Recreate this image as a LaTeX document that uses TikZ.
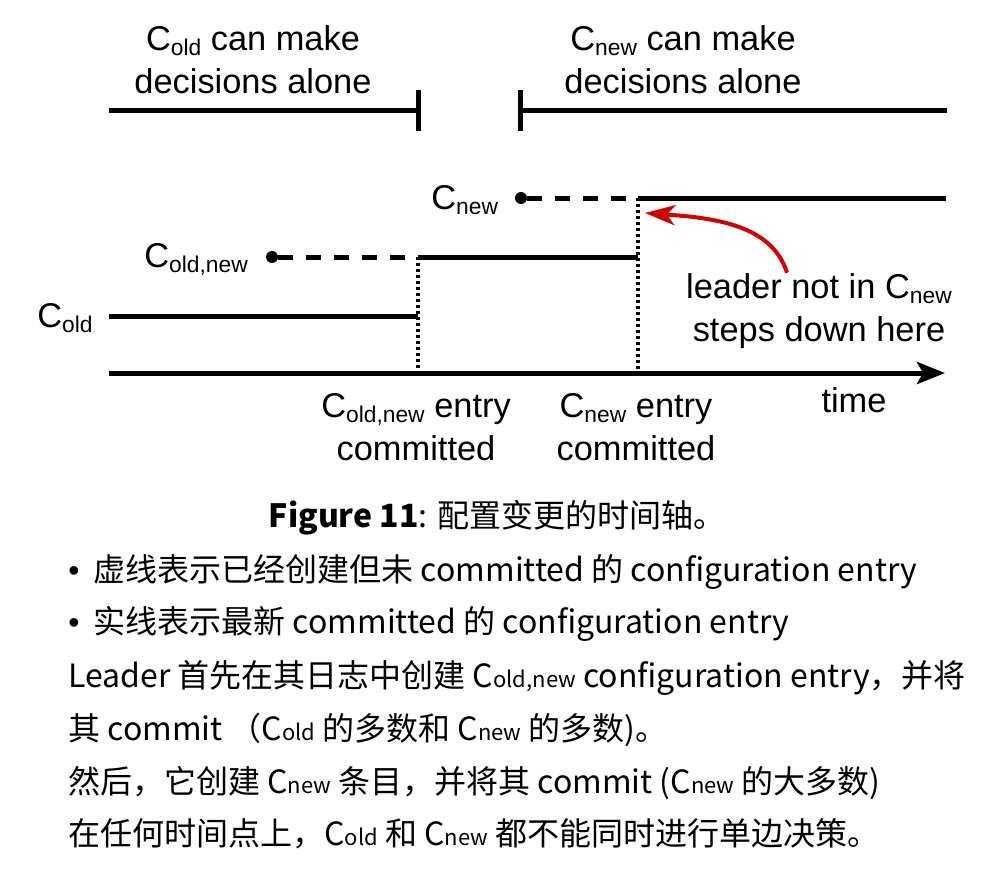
\documentclass[tikz,border=0pt]{standalone}
\usepackage{fontspec}
\setmainfont{Liberation Sans}
\newfontfamily\cjk{Noto Sans CJK SC}
\usepackage{graphicx}
\usetikzlibrary{positioning}
\usetikzlibrary{arrows.meta}
\definecolor{leaderred}{RGB}{204,0,0}
\newcommand{\Csub}[1]{C\raisebox{-2.5pt}{\fontsize{11.4}{12}\selectfont #1}}
\newcommand{\Ccap}[1]{C{\fontsize{11}{12}\selectfont #1}}
\newcommand{\capbullet}{{\normalfont •}\hspace{7pt}}

\begin{document}
\begin{tikzpicture}[x=0.5pt, y=-0.5pt, >=Stealth,
lbl/.style={inner sep=0pt, font=\fontsize{17.2}{21.5}\selectfont, align=center},
captext/.style={inner sep=0pt, anchor=base west, font=\cjk\fontsize{16}{20}\selectfont},
cfgline/.style={line width=2.5pt},
pending/.style={line width=2.5pt, dash pattern=on 7.5pt off 6.5pt},
commitmark/.style={line width=1.6pt, dash pattern=on 1.5pt off 1.5pt},
dot/.style={circle, inner sep=0pt, minimum size=6pt, fill}]

\useasboundingbox (0,0) rectangle (998,873);

%% who can decide alone
\coordinate (oldl) at (109,110);
\coordinate (oldr) at (418,110);
\coordinate (newl) at (520,110);
\coordinate (newr) at (947,110);
\draw[cfgline] (oldl) -- (oldr);
\draw[cfgline] ([yshift=10pt]oldr) -- ([yshift=-10.5pt]oldr);
\draw[cfgline] (newl) -- (newr);
\draw[cfgline] ([yshift=10pt]newl) -- ([yshift=-10.5pt]newl);
\node[lbl, anchor=base] (oldtxt) at (253,93) {\Csub{old} can make\\decisions alone};
\node[lbl, anchor=base] (newtxt) at (683,93) {\Csub{new} can make\\decisions alone};

%% time axis
\coordinate (t0) at (109,373);
\coordinate (t1) at (945,373);
\draw[cfgline, -{Stealth[length=14pt, width=11pt, inset=3pt]}] (t0) -- (t1);
\node[lbl, anchor=base] (timelbl) at (854,412) {time};

%% C_old
\coordinate (cold0) at (109,316);
\coordinate (cold1) at (418,316);
\draw[cfgline] (cold0) -- (cold1);
\node[lbl, anchor=base west] (oldlbl) at (37,327) {\Csub{old}};

%% C_old,new
\node[dot] (onstart) at (272,257) {};
\coordinate (oncommit) at (418,257);
\coordinate (onend) at (638,257);
\draw[pending] (onstart) -- (oncommit);
\draw[cfgline] (oncommit) -- (onend);
\node[lbl, anchor=base west] (onlbl) at (144,267) {\Csub{old,new}};

%% C_new
\node[dot] (nstart) at (521,198) {};
\coordinate (ncommit) at (638,198);
\coordinate (nend) at (946,198);
\draw[pending] (nstart) -- (ncommit);
\draw[cfgline] (ncommit) -- (nend);
\node[lbl, anchor=base west] (newlbl) at (431,209) {\Csub{new}};

%% commit points
\coordinate (oncmtax) at (418,373);
\coordinate (ncmtax) at (638,373);
\draw[commitmark] (oncommit) -- (oncmtax);
\draw[commitmark] (ncommit) -- (ncmtax);
\node[lbl, anchor=base] (oncmt) at (416,460) {\Csub{old,new} entry\\committed};
\node[lbl, anchor=base] (ncmt) at (636,460) {\Csub{new} entry\\committed};

%% leader steps down
\node[lbl, anchor=base] (stepdown) at (819,341) {leader not in \Csub{new}\\steps down here};
\coordinate (tipin) at (645,213);
\draw[leaderred, line width=2pt, -{Stealth[length=15pt, width=10pt, inset=4pt]}] ([xshift=-16pt]stepdown.north) .. controls (772,225) and (715,218) .. (tipin);

%% caption
\node[captext, anchor=base] (figcap) at (497,527) {\textbf{Figure 11}: 配置变更的时间轴。};
\node[captext] (l1) at (68,581) {\capbullet 虚线表示已经创建但未 committed 的 configuration entry};
\node[captext] (l2) at (68,633) {\capbullet 实线表示最新 committed 的 configuration entry};
\node[captext] (l3) at (68,687) {Leader 首先在其日志中创建 \Ccap{old,new} configuration entry，并将};
\node[captext] (l4) at (68,740) {其 commit （\Ccap{old} 的多数和 \Ccap{new} 的多数)。};
\node[captext] (l5) at (68,793) {然后，它创建 \Ccap{new} 条目，并将其 commit (\Ccap{new} 的大多数)};
\node[captext] (l6) at (68,845) {在任何时间点上，\Ccap{old} 和 \Ccap{new} 都不能同时进行单边决策。};

\end{tikzpicture}
\end{document}
